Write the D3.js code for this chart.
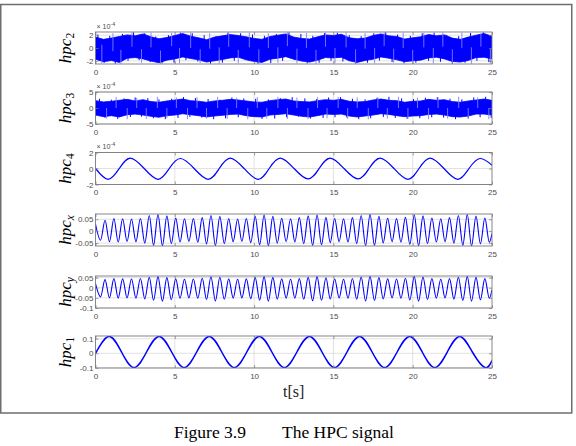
<!DOCTYPE html>
<html>
<head>
<meta charset="utf-8">
<script src="https://cdn.jsdelivr.net/npm/d3@7"></script>
<style>
    body { margin: 0; background: #fff; }
    svg { display: block; }
</style>
</head>
<body>
<svg id="chart" width="576" height="446"></svg>
<script>
// time axis
const tTicks = [0, 5, 10, 15, 20, 25];
const tGrid = [0, 0.5, 1, 1.5, 2, 2.5, 3, 3.5, 4, 4.5, 5, 5.5, 6, 6.5, 7, 7.5, 8, 8.5, 9, 9.5,
    10, 10.5, 11, 11.5, 12, 12.5, 13, 13.5, 14, 14.5, 15, 15.5, 16, 16.5, 17, 17.5, 18, 18.5, 19, 19.5,
    20, 20.5, 21, 21.5, 22, 22.5, 23, 23.5, 24, 24.5, 25];

// hpc2 (x1e-4): noisy band, upper / lower envelope on tGrid,
// light spikes [t, lo, hi] and blue teeth [t, v] sticking out of the band
const hpc2Upper = [1.70, 1.35, 1.55, 1.80, 2.05, 1.90, 2.20, 1.75, 1.45, 1.65, 1.95, 2.25, 1.85, 1.60, 1.30, 1.70,
    1.90, 2.10, 1.95, 1.75, 1.50, 1.35, 1.80, 2.00, 2.20, 1.70, 1.50, 1.40, 1.75, 2.05, 1.95, 2.15, 1.60, 1.45, 1.55,
    1.95, 2.20, 1.90, 1.80, 1.40, 1.60, 1.75, 2.10, 1.90, 2.05, 1.55, 1.35, 1.70, 2.00, 2.25, 1.85];
const hpc2Lower = [-1.75, -2.15, -1.95, -2.25, -1.60, -1.50, -1.70, -2.05, -2.30, -1.90, -1.70, -1.40, -1.65, -1.85,
    -2.20, -2.00, -1.80, -1.55, -1.45, -1.85, -2.10, -2.25, -1.75, -1.60, -1.35, -1.75, -2.05, -2.20, -1.90, -1.50,
    -1.55, -1.45, -2.00, -2.25, -1.95, -1.75, -1.40, -1.60, -1.85, -2.15, -2.00, -1.90, -1.55, -1.45, -1.70, -2.10,
    -2.20, -1.95, -1.50, -1.45, -1.70];
const hpc2Spikes = [[0.4, -2.4, 0.5], [1.1, -0.5, 2.3], [1.6, -2.45, -0.3], [2.3, 0.2, 2.45], [2.9, -2.3, -0.2],
    [3.5, 0.1, 2.4], [4.1, -2.45, -0.4], [4.8, 0.3, 2.35], [5.3, -2.4, 0], [6.0, 0, 2.45], [6.6, -2.35, -0.2],
    [7.2, -0.1, 2.3], [7.8, -2.45, 0.1], [8.4, 0.2, 2.45], [9.0, -2.4, -0.3], [9.7, 0.1, 2.4], [10.3, -2.45, -0.2],
    [10.9, 0, 2.3], [11.5, -2.3, 0.1], [12.1, 0.3, 2.45], [12.7, -2.4, -0.1], [13.3, 0, 2.35], [13.9, -2.45, -0.3],
    [14.5, 0.2, 2.4], [15.1, -2.35, 0], [15.8, 0.1, 2.45], [16.4, -2.45, -0.2], [17.0, -0.1, 2.3], [17.6, -2.4, 0],
    [18.2, 0.3, 2.45], [18.8, -2.3, -0.1], [19.4, 0, 2.4], [20.0, -2.45, -0.3], [20.7, 0.1, 2.35], [21.3, -2.4, 0],
    [21.9, 0.2, 2.45], [22.5, -2.35, -0.2], [23.1, 0, 2.4], [23.7, -2.45, 0.1], [24.3, 0.2, 2.3], [24.9, -2.4, -0.1]];
const hpc2Teeth = [[0.15, 2.1], [0.55, -2.3], [0.9, 1.9], [1.25, -2.45], [1.7, 2.2], [2.05, -2.0], [2.4, 2.45],
    [2.75, -1.9], [3.1, 2.3], [3.45, -2.2], [3.8, 1.8], [4.2, -2.4], [4.6, 2.0], [4.95, -2.3], [5.35, 2.4],
    [5.7, -1.9], [6.1, 2.3], [6.45, -2.1], [6.85, 2.0], [7.25, -2.45], [7.6, 1.8], [8.0, -2.3], [8.35, 2.4],
    [8.75, -2.0], [9.15, 2.3], [9.5, -1.8], [9.9, 2.1], [10.25, -2.45], [10.65, 1.9], [11.05, -2.35], [11.4, 2.2],
    [11.8, -2.0], [12.2, 2.45], [12.55, -1.85], [12.95, 2.2], [13.35, -2.4], [13.7, 1.9], [14.1, -2.3], [14.45, 2.35],
    [14.85, -2.0], [15.25, 2.4], [15.6, -2.1], [16.0, 2.0], [16.4, -2.45], [16.75, 1.85], [17.15, -2.3], [17.55, 2.3],
    [17.9, -1.95], [18.3, 2.45], [18.7, -2.2], [19.05, 2.1], [19.45, -2.4], [19.85, 1.9], [20.2, -2.3], [20.6, 2.3],
    [21.0, -2.0], [21.35, 2.4], [21.75, -2.15], [22.15, 2.0], [22.5, -2.45], [22.9, 1.85], [23.3, -2.3], [23.65, 2.35],
    [24.05, -2.0], [24.45, 2.45], [24.8, -2.2]];

// hpc3 (x1e-4)
const hpc3Upper = [2.3, 1.9, 2.1, 2.4, 2.7, 2.2, 2.6, 2.0, 1.8, 2.2, 2.5, 2.8, 2.3, 2.1, 1.8, 2.2, 2.4, 2.7, 2.5, 2.2,
    1.9, 1.8, 2.3, 2.6, 2.8, 2.2, 2.0, 1.9, 2.3, 2.6, 2.4, 2.7, 2.1, 1.9, 2.0, 2.5, 2.8, 2.4, 2.3, 1.8, 2.1, 2.2, 2.7,
    2.4, 2.6, 2.0, 1.8, 2.2, 2.5, 2.8, 2.4];
const hpc3Lower = [-2.2, -2.7, -2.4, -2.8, -2.1, -1.9, -2.2, -2.6, -2.9, -2.4, -2.2, -1.8, -2.1, -2.4, -2.8, -2.5,
    -2.3, -2.0, -1.9, -2.4, -2.7, -2.8, -2.2, -2.0, -1.8, -2.2, -2.6, -2.8, -2.4, -1.9, -2.0, -1.9, -2.5, -2.8, -2.5,
    -2.2, -1.8, -2.0, -2.4, -2.7, -2.5, -2.4, -2.0, -1.9, -2.2, -2.7, -2.8, -2.5, -1.9, -1.9, -2.2];
const hpc3Spikes = [[0.7, -3.3, 0], [1.3, 0, 3.4], [2.0, -3.5, 0], [2.6, 0, 3.2], [3.2, -3.4, 0], [3.9, 0, 3.5],
    [4.5, -3.2, 0], [5.1, 0, 3.3], [5.8, -3.5, 0], [6.4, 0, 3.4], [7.0, -3.3, 0], [7.7, 0, 3.5], [8.3, -3.4, 0],
    [8.9, 0, 3.2], [9.6, -3.5, 0], [10.2, 0, 3.4], [10.8, -3.3, 0], [11.5, 0, 3.5], [12.1, -3.4, 0], [12.7, 0, 3.3],
    [13.4, -3.5, 0], [14.0, 0, 3.4], [14.6, -3.2, 0], [15.3, 0, 3.5], [15.9, -3.4, 0], [16.5, 0, 3.3], [17.2, -3.5, 0],
    [17.8, 0, 3.4], [18.4, -3.3, 0], [19.1, 0, 3.5], [19.7, -3.4, 0], [20.3, 0, 3.2], [21.0, -3.5, 0], [21.6, 0, 3.4],
    [22.2, -3.3, 0], [22.9, 0, 3.5], [23.5, -3.4, 0], [24.1, 0, 3.3], [24.8, -3.5, 0]];
const hpc3Teeth = [[0.25, 2.9], [0.6, -3.1], [1.0, 2.6], [1.4, -3.4], [1.8, 3.0], [2.2, -2.8], [2.5, 3.3],
    [2.9, -2.7], [3.3, 3.1], [3.65, -3.2], [4.0, 2.7], [4.4, -3.5], [4.8, 2.9], [5.2, -3.1], [5.55, 3.4],
    [5.95, -2.8], [6.3, 3.1], [6.7, -3.0], [7.1, 2.8], [7.45, -3.5], [7.85, 2.6], [8.2, -3.2], [8.6, 3.3],
    [9.0, -2.9], [9.35, 3.0], [9.75, -2.7], [10.1, 2.9], [10.5, -3.4], [10.9, 2.7], [11.3, -3.3], [11.65, 3.1],
    [12.05, -2.9], [12.4, 3.4], [12.8, -2.7], [13.2, 3.0], [13.55, -3.3], [13.95, 2.8], [14.35, -3.1], [14.7, 3.3],
    [15.1, -2.9], [15.45, 3.4], [15.85, -3.0], [16.2, 2.9], [16.6, -3.5], [17.0, 2.7], [17.35, -3.2], [17.75, 3.2],
    [18.15, -2.8], [18.5, 3.5], [18.9, -3.1], [19.3, 3.0], [19.65, -3.4], [20.05, 2.8], [20.45, -3.2], [20.8, 3.2],
    [21.2, -2.9], [21.55, 3.4], [21.95, -3.0], [22.35, 2.9], [22.7, -3.5], [23.1, 2.7], [23.5, -3.2], [23.85, 3.3],
    [24.25, -2.9], [24.6, 3.5], [24.95, -3.1]];

// hpc4 (x1e-4): extrema and zero crossings [t, v]
const hpc4Points = [[0, 0.0], [0.8, -1.35], [1.5, 0], [2.2, 1.3], [3.07, 0], [3.95, -1.35], [4.65, 0], [5.35, 1.25],
    [6.22, 0], [7.1, -1.35], [7.8, 0], [8.5, 1.3], [9.37, 0], [10.25, -1.35], [10.95, 0], [11.65, 1.3], [12.52, 0],
    [13.4, -1.3], [14.1, 0], [14.8, 1.3], [15.67, 0], [16.55, -1.3], [17.25, 0], [17.95, 1.3], [18.82, 0],
    [19.7, -1.35], [20.4, 0], [21.1, 1.3], [21.97, 0], [22.85, -1.35], [23.55, 0], [24.25, 1.25], [25, 0.4]];

// hpc_x / hpc_y: times of the peaks and troughs, and their values
const oscPeakT = [0.60, 1.16, 1.71, 2.27, 2.83, 3.39, 3.94, 4.50, 5.06, 5.61, 6.17, 6.73, 7.28, 7.84, 8.40, 8.96,
    9.51, 10.07, 10.63, 11.18, 11.74, 12.30, 12.85, 13.41, 13.97, 14.53, 15.08, 15.64, 16.20, 16.75, 17.31, 17.87,
    18.42, 18.98, 19.54, 20.10, 20.65, 21.21, 21.77, 22.32, 22.88, 23.44, 23.99, 24.55];
const oscTroughT = [0.32, 0.88, 1.43, 1.99, 2.55, 3.11, 3.66, 4.22, 4.78, 5.33, 5.89, 6.45, 7.00, 7.56, 8.12, 8.68,
    9.23, 9.79, 10.35, 10.90, 11.46, 12.02, 12.57, 13.13, 13.69, 14.25, 14.80, 15.36, 15.92, 16.47, 17.03, 17.59,
    18.14, 18.70, 19.26, 19.82, 20.37, 20.93, 21.49, 22.04, 22.60, 23.16, 23.71, 24.27, 24.83];

const hpcxPeaks = [0.046, 0.053, 0.052, 0.051, 0.053, 0.066, 0.070, 0.064, 0.055, 0.052, 0.053, 0.057, 0.066, 0.062,
    0.053, 0.051, 0.053, 0.062, 0.068, 0.062, 0.054, 0.052, 0.057, 0.064, 0.068, 0.058, 0.053, 0.052, 0.057, 0.066,
    0.070, 0.062, 0.054, 0.053, 0.058, 0.068, 0.064, 0.055, 0.052, 0.057, 0.066, 0.070, 0.063, 0.055];
const hpcxTroughs = [-0.038, -0.044, -0.045, -0.043, -0.044, -0.050, -0.059, -0.061, -0.052, -0.045, -0.043, -0.046,
    -0.053, -0.060, -0.052, -0.044, -0.043, -0.048, -0.057, -0.061, -0.050, -0.044, -0.045, -0.052, -0.059, -0.057,
    -0.048, -0.044, -0.045, -0.052, -0.060, -0.059, -0.049, -0.044, -0.046, -0.055, -0.061, -0.052, -0.045, -0.044,
    -0.050, -0.059, -0.062, -0.053, -0.046];
const hpcxEnds = [[0, 0.03], [25, -0.01]];

const hpcyPeaks = [0.040, 0.045, 0.044, 0.043, 0.046, 0.052, 0.055, 0.050, 0.044, 0.042, 0.043, 0.047, 0.054, 0.052,
    0.044, 0.042, 0.044, 0.050, 0.055, 0.051, 0.044, 0.042, 0.045, 0.051, 0.055, 0.049, 0.043, 0.042, 0.046, 0.053,
    0.056, 0.050, 0.044, 0.043, 0.047, 0.055, 0.053, 0.045, 0.042, 0.045, 0.052, 0.056, 0.051, 0.045];
const hpcyTroughs = [-0.045, -0.050, -0.051, -0.050, -0.051, -0.055, -0.062, -0.066, -0.059, -0.052, -0.050, -0.052,
    -0.058, -0.065, -0.057, -0.051, -0.050, -0.054, -0.061, -0.066, -0.056, -0.051, -0.051, -0.057, -0.064, -0.062,
    -0.055, -0.050, -0.051, -0.057, -0.065, -0.063, -0.055, -0.050, -0.052, -0.060, -0.066, -0.058, -0.051, -0.050,
    -0.056, -0.063, -0.066, -0.059, -0.052];
const hpcyEnds = [[0, 0.02], [25, -0.01]];

// hpc1: extrema and mid crossings [t, v]
const hpc1Points = [[0, 0.0], [0.85, 0.116], [1.64, 0.009], [2.43, -0.098], [3.22, 0.009], [4.01, 0.116],
    [4.8, 0.009], [5.59, -0.098], [6.38, 0.009], [7.17, 0.116], [7.96, 0.009], [8.75, -0.098], [9.54, 0.009],
    [10.33, 0.116], [11.12, 0.009], [11.91, -0.098], [12.7, 0.009], [13.49, 0.116], [14.28, 0.009], [15.07, -0.098],
    [15.86, 0.009], [16.65, 0.116], [17.44, 0.009], [18.23, -0.098], [19.02, 0.009], [19.81, 0.116], [20.6, 0.009],
    [21.39, -0.098], [22.18, 0.009], [22.97, 0.116], [23.76, 0.009], [24.55, -0.098], [25, -0.05]];

function oscSeries(peaks, troughs, ends) {
    const pts = ends.slice();
    peaks.forEach((v, i) => pts.push([oscPeakT[i], v]));
    troughs.forEach((v, i) => pts.push([oscTroughT[i], v]));
    return pts.sort((a, b) => a[0] - b[0]);
}

const panels = [
    { sub: '2', top: 32, domain: [-2.5, 2.5], ticks: [-2, 0, 2], exp: true, kind: 'band',
      upper: hpc2Upper, lower: hpc2Lower, spikes: hpc2Spikes, teeth: hpc2Teeth },
    { sub: '3', top: 92, domain: [-5, 5], ticks: [-5, 0, 5], exp: true, kind: 'band',
      upper: hpc3Upper, lower: hpc3Lower, spikes: hpc3Spikes, teeth: hpc3Teeth },
    { sub: '4', top: 152.5, domain: [-2, 2], ticks: [-2, 0, 2], exp: true, kind: 'line',
      points: hpc4Points, curve: d3.curveNatural, width: 1.2 },
    { sub: 'x', top: 214, domain: [-0.062, 0.072], ticks: [-0.05, 0, 0.05], kind: 'line',
      points: oscSeries(hpcxPeaks, hpcxTroughs, hpcxEnds), curve: d3.curveMonotoneX, width: 1.1 },
    { sub: 'y', top: 276, domain: [-0.1, 0.058], ticks: [-0.1, -0.05, 0, 0.05], kind: 'line',
      points: oscSeries(hpcyPeaks, hpcyTroughs, hpcyEnds), curve: d3.curveMonotoneX, width: 1.1 },
    { sub: '1', top: 336, domain: [-0.101, 0.119], ticks: [-0.1, 0, 0.1], kind: 'line',
      points: hpc1Points, curve: d3.curveNatural, width: 1.5 }
];

const svg = d3.select('#chart');
const plotLeft = 95.5, plotRight = 492, panelH = 32;
const boxColor = '#7a7a7a', labelColor = '#4d4d4d', lineColor = '#0000ff';
const sansFont = '"Liberation Sans", Arial, sans-serif';
const serifFont = '"Liberation Serif", "Times New Roman", serif';

const x = d3.scaleLinear().domain([0, 25]).range([plotLeft, plotRight]);

// outer frame of the figure
svg.append('rect')
    .attr('x', 0.75).attr('y', 4.5)
    .attr('width', 571).attr('height', 408.5)
    .attr('fill', 'none')
    .attr('stroke', '#6e6e6e')
    .attr('stroke-width', 1.5);

function styleAxis(sel) {
    sel.select('.domain').remove();
    sel.selectAll('line').attr('stroke', boxColor).attr('stroke-width', 0.7);
    sel.selectAll('text')
        .attr('fill', labelColor)
        .style('font-family', sansFont)
        .style('font-size', '8px');
}

panels.forEach((p, i) => {
    const top = p.top, bottom = top + panelH;
    const y = d3.scaleLinear().domain(p.domain).range([bottom, top]);
    const g = svg.append('g');

    const clipId = 'clip' + i;
    svg.append('clipPath').attr('id', clipId)
        .append('rect')
        .attr('x', plotLeft).attr('y', top)
        .attr('width', plotRight - plotLeft).attr('height', panelH);

    // grid
    g.selectAll('.vgrid')
        .data(tTicks.slice(1, -1))
        .join('line')
        .attr('class', 'vgrid')
        .attr('x1', d => x(d)).attr('x2', d => x(d))
        .attr('y1', top).attr('y2', bottom)
        .attr('stroke', '#d4d4d4').attr('stroke-width', 0.7);
    g.selectAll('.hgrid')
        .data(p.ticks)
        .join('line')
        .attr('class', 'hgrid')
        .attr('x1', plotLeft).attr('x2', plotRight)
        .attr('y1', d => y(d)).attr('y2', d => y(d))
        .attr('stroke', '#d4d4d4').attr('stroke-width', 0.7);

    const dg = g.append('g').attr('clip-path', `url(#${clipId})`);
    if (p.kind === 'band') {
        const area = d3.area()
            .x((d, j) => x(tGrid[j]))
            .y0((d, j) => y(p.lower[j]))
            .y1(d => y(d));
        dg.append('path')
            .datum(p.upper)
            .attr('d', area)
            .attr('fill', lineColor)
            .attr('stroke', lineColor)
            .attr('stroke-width', 0.8);
        dg.selectAll('.tooth')
            .data(p.teeth)
            .join('line')
            .attr('class', 'tooth')
            .attr('x1', d => x(d[0])).attr('x2', d => x(d[0]))
            .attr('y1', y(0)).attr('y2', d => y(d[1]))
            .attr('stroke', lineColor)
            .attr('stroke-width', 1);
        dg.selectAll('.spike')
            .data(p.spikes)
            .join('line')
            .attr('class', 'spike')
            .attr('x1', d => x(d[0])).attr('x2', d => x(d[0]))
            .attr('y1', d => y(d[1])).attr('y2', d => y(d[2]))
            .attr('stroke', '#7d7dff')
            .attr('stroke-width', 0.9);
    } else {
        const line = d3.line()
            .x(d => x(d[0]))
            .y(d => y(d[1]))
            .curve(p.curve);
        dg.append('path')
            .datum(p.points)
            .attr('d', line)
            .attr('fill', 'none')
            .attr('stroke', lineColor)
            .attr('stroke-width', p.width);
    }

    // axes (ticks inside, box style)
    g.append('g')
        .attr('transform', `translate(0,${bottom})`)
        .call(d3.axisBottom(x).tickValues(tTicks).tickSize(-3).tickPadding(5).tickFormat(d3.format('d')))
        .call(styleAxis);
    g.append('g')
        .attr('transform', `translate(0,${top})`)
        .call(d3.axisTop(x).tickValues(tTicks).tickSize(-3).tickFormat(''))
        .call(styleAxis);
    g.append('g')
        .attr('transform', `translate(${plotLeft},0)`)
        .call(d3.axisLeft(y).tickValues(p.ticks).tickSize(-3).tickPadding(2).tickFormat(d => String(d)))
        .call(styleAxis);
    g.append('g')
        .attr('transform', `translate(${plotRight},0)`)
        .call(d3.axisRight(y).tickValues(p.ticks).tickSize(-3).tickFormat(''))
        .call(styleAxis);

    g.append('rect')
        .attr('x', plotLeft).attr('y', top)
        .attr('width', plotRight - plotLeft).attr('height', panelH)
        .attr('fill', 'none')
        .attr('stroke', boxColor)
        .attr('stroke-width', 0.9);

    if (p.exp) {
        const et = g.append('text')
            .attr('x', plotLeft + 1).attr('y', top - 3.5)
            .attr('fill', labelColor)
            .style('font-family', sansFont)
            .style('font-size', '7px');
        et.append('tspan').text('\u00d7 10');
        et.append('tspan').attr('dy', -3).style('font-size', '5.5px').text('-4');
    }

    // y label, rotated: hpc with subscript
    const isDigit = /\d/.test(p.sub);
    const lt = g.append('text')
        .attr('transform', `translate(71,${top + panelH / 2}) rotate(-90)`)
        .attr('text-anchor', 'middle')
        .attr('fill', '#000')
        .style('font-family', serifFont)
        .style('font-size', '17px');
    lt.append('tspan').style('font-style', 'italic').text('hpc');
    lt.append('tspan')
        .attr('dy', 3)
        .style('font-size', '11.5px')
        .style('font-style', isDigit ? 'normal' : 'italic')
        .text(p.sub);
});

svg.append('text')
    .attr('x', (plotLeft + plotRight) / 2).attr('y', 397)
    .attr('text-anchor', 'middle')
    .style('font-family', serifFont)
    .style('font-size', '16px')
    .attr('fill', '#222')
    .text('t[s]');

svg.append('text')
    .attr('x', 174).attr('y', 438)
    .style('font-family', serifFont)
    .style('font-size', '17.5px')
    .text('Figure 3.9');
svg.append('text')
    .attr('x', 282).attr('y', 438)
    .style('font-family', serifFont)
    .style('font-size', '17.5px')
    .text('The HPC signal');
</script>
</body>
</html>
